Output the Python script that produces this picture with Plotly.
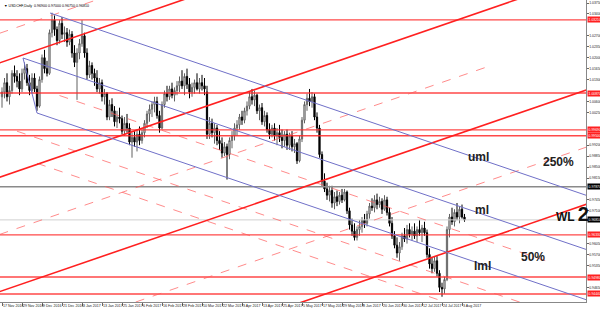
import plotly.graph_objects as go

# ---------------- data ----------------
bars = list(range(186))
opens = [1.0075,1.0090,1.0120,1.0075,1.0095,1.0150,1.0140,1.0125,1.0100,1.0150,
         1.0165,1.0120,1.0095,1.0135,1.0100,1.0045,1.0130,1.0200,1.0165,1.0150,
         1.0280,1.0320,1.0290,1.0255,1.0310,1.0275,1.0280,1.0250,1.0275,1.0215,
         1.0185,1.0215,1.0245,1.0270,1.0215,1.0145,1.0175,1.0150,1.0135,1.0100,
         1.0120,1.0075,1.0085,1.0010,1.0050,1.0030,0.9995,1.0010,1.0005,0.9965,
         0.9990,0.9975,0.9930,0.9945,0.9930,0.9955,0.9935,0.9960,0.9990,1.0020,
         1.0035,1.0050,1.0060,1.0015,0.9975,1.0050,1.0085,1.0075,1.0100,1.0080,
         1.0095,1.0110,1.0125,1.0110,1.0140,1.0115,1.0090,1.0105,1.0120,1.0100,
         1.0120,1.0110,1.0090,0.9955,0.9990,0.9960,0.9975,0.9935,0.9925,0.9895,
         0.9915,0.9890,0.9935,0.9950,0.9975,0.9985,1.0010,1.0000,1.0030,1.0045,
         1.0075,1.0065,1.0080,1.0030,1.0040,0.9995,1.0015,0.9970,0.9955,0.9975,
         0.9950,0.9960,0.9945,0.9935,0.9955,0.9920,0.9950,0.9915,0.9925,0.9870,
         0.9940,1.0000,1.0050,1.0070,1.0060,1.0075,1.0010,0.9975,0.9890,0.9805,
         0.9780,0.9760,0.9775,0.9735,0.9755,0.9740,0.9760,0.9745,0.9770,0.9710,
         0.9665,0.9645,0.9625,0.9650,0.9660,0.9680,0.9670,0.9700,0.9725,0.9720,
         0.9745,0.9730,0.9740,0.9715,0.9745,0.9705,0.9670,0.9630,0.9600,0.9575,
         0.9595,0.9630,0.9620,0.9650,0.9635,0.9645,0.9630,0.9650,0.9640,0.9655,
         0.9640,0.9570,0.9540,0.9525,0.9550,0.9510,0.9465,0.9460,0.9490,0.9650,
         0.9690,0.9675,0.9705,0.9690,0.9715,0.9690]
highs = [1.0105,1.0135,1.0150,1.0110,1.0160,1.0175,1.0160,1.0150,1.0165,1.0185,
         1.0180,1.0145,1.0150,1.0150,1.0110,1.0140,1.0210,1.0225,1.0190,1.0290,
         1.0344,1.0335,1.0300,1.0320,1.0330,1.0300,1.0295,1.0290,1.0285,1.0240,
         1.0230,1.0260,1.0320,1.0280,1.0230,1.0190,1.0185,1.0165,1.0160,1.0135,
         1.0130,1.0100,1.0090,1.0065,1.0070,1.0045,1.0030,1.0040,1.0015,1.0010,
         1.0020,0.9990,0.9960,0.9965,0.9970,0.9980,0.9970,1.0000,1.0030,1.0050,
         1.0060,1.0075,1.0075,1.0030,1.0060,1.0095,1.0110,1.0110,1.0120,1.0105,
         1.0125,1.0140,1.0160,1.0150,1.0165,1.0135,1.0120,1.0130,1.0150,1.0135,
         1.0145,1.0135,1.0110,1.0010,1.0005,0.9990,0.9985,0.9965,0.9945,0.9930,
         0.9925,0.9945,0.9965,0.9990,1.0000,1.0020,1.0030,1.0040,1.0060,1.0090,
         1.0100,1.0095,1.0085,1.0050,1.0055,1.0030,1.0025,0.9990,0.9985,0.9990,
         0.9975,0.9985,0.9970,0.9965,0.9970,0.9960,0.9965,0.9940,0.9930,0.9950,
         1.0010,1.0060,1.0085,1.0100,1.0090,1.0085,1.0025,0.9985,0.9900,0.9830,
         0.9800,0.9790,0.9790,0.9770,0.9775,0.9770,0.9780,0.9780,0.9775,0.9720,
         0.9685,0.9670,0.9660,0.9680,0.9690,0.9700,0.9710,0.9735,0.9750,0.9760,
         0.9765,0.9755,0.9750,0.9760,0.9755,0.9720,0.9690,0.9645,0.9625,0.9610,
         0.9640,0.9655,0.9665,0.9670,0.9660,0.9670,0.9660,0.9680,0.9665,0.9675,
         0.9650,0.9590,0.9560,0.9565,0.9565,0.9520,0.9480,0.9500,0.9660,0.9700,
         0.9720,0.9715,0.9735,0.9725,0.9730,0.9700]
lows = [1.0040,1.0070,1.0060,1.0050,1.0085,1.0120,1.0105,1.0080,1.0090,1.0130,
        1.0110,1.0080,1.0085,1.0090,1.0030,1.0040,1.0120,1.0150,1.0140,1.0145,
        1.0265,1.0270,1.0240,1.0245,1.0260,1.0250,1.0235,1.0240,1.0200,1.0170,
        1.0065,1.0195,1.0235,1.0200,1.0130,1.0135,1.0130,1.0110,1.0090,1.0085,
        1.0060,1.0050,1.0000,1.0000,1.0010,0.9980,0.9975,0.9990,0.9955,0.9950,
        0.9960,0.9920,0.9880,0.9915,0.9900,0.9920,0.9925,0.9945,0.9975,0.9995,
        1.0010,1.0025,1.0005,0.9960,0.9970,1.0040,1.0060,1.0065,1.0070,1.0060,
        1.0080,1.0090,1.0100,1.0080,1.0100,1.0070,1.0075,1.0085,1.0095,1.0085,
        1.0095,1.0080,0.9940,0.9940,0.9945,0.9925,0.9920,0.9905,0.9880,0.9885,
        0.9810,0.9875,0.9910,0.9935,0.9950,0.9970,0.9985,0.9990,1.0015,1.0035,
        1.0050,1.0045,1.0020,1.0000,0.9985,0.9980,0.9960,0.9940,0.9945,0.9935,
        0.9920,0.9930,0.9910,0.9915,0.9905,0.9905,0.9900,0.9895,0.9860,0.9865,
        0.9930,0.9990,1.0030,1.0045,1.0040,1.0000,0.9960,0.9880,0.9790,0.9770,
        0.9745,0.9740,0.9720,0.9715,0.9725,0.9730,0.9735,0.9740,0.9700,0.9650,
        0.9630,0.9615,0.9615,0.9630,0.9640,0.9655,0.9660,0.9685,0.9710,0.9705,
        0.9715,0.9720,0.9700,0.9710,0.9695,0.9660,0.9620,0.9590,0.9560,0.9550,
        0.9585,0.9610,0.9605,0.9625,0.9615,0.9620,0.9610,0.9630,0.9610,0.9630,
        0.9560,0.9525,0.9510,0.9515,0.9500,0.9450,0.9435,0.9445,0.9485,0.9625,
        0.9665,0.9660,0.9680,0.9670,0.9685,0.9675]
closes = [1.0090,1.0120,1.0075,1.0095,1.0150,1.0140,1.0125,1.0100,1.0150,1.0165,
          1.0120,1.0095,1.0135,1.0100,1.0045,1.0130,1.0200,1.0165,1.0150,1.0280,
          1.0320,1.0290,1.0255,1.0310,1.0275,1.0280,1.0250,1.0275,1.0215,1.0185,
          1.0215,1.0245,1.0270,1.0215,1.0145,1.0175,1.0150,1.0135,1.0100,1.0120,
          1.0075,1.0085,1.0010,1.0050,1.0030,0.9995,1.0010,1.0005,0.9965,0.9990,
          0.9975,0.9930,0.9945,0.9930,0.9955,0.9935,0.9960,0.9990,1.0020,1.0035,
          1.0050,1.0060,1.0015,0.9975,1.0050,1.0085,1.0075,1.0100,1.0080,1.0095,
          1.0110,1.0125,1.0110,1.0140,1.0115,1.0090,1.0105,1.0120,1.0100,1.0120,
          1.0110,1.0100,0.9955,0.9990,0.9960,0.9975,0.9935,0.9925,0.9895,0.9915,
          0.9890,0.9935,0.9950,0.9975,0.9985,1.0010,1.0000,1.0030,1.0045,1.0075,
          1.0065,1.0080,1.0030,1.0040,0.9995,1.0015,0.9970,0.9955,0.9975,0.9950,
          0.9960,0.9945,0.9935,0.9955,0.9920,0.9950,0.9915,0.9925,0.9870,0.9940,
          1.0000,1.0050,1.0070,1.0060,1.0075,1.0010,0.9975,0.9890,0.9805,0.9780,
          0.9760,0.9775,0.9735,0.9755,0.9740,0.9760,0.9745,0.9770,0.9710,0.9665,
          0.9645,0.9625,0.9650,0.9660,0.9680,0.9670,0.9700,0.9725,0.9720,0.9745,
          0.9730,0.9740,0.9715,0.9745,0.9705,0.9670,0.9630,0.9600,0.9575,0.9595,
          0.9630,0.9620,0.9650,0.9635,0.9645,0.9630,0.9650,0.9640,0.9655,0.9640,
          0.9570,0.9540,0.9525,0.9550,0.9510,0.9465,0.9460,0.9490,0.9650,0.9690,
          0.9675,0.9705,0.9690,0.9715,0.9690,0.9681]

date_tick_bars = [0,8,16,24,32,40,48,56,64,72,80,88,96,104,112,120,128,136,144,152,160,168,176,184]
date_tick_labels = ["17 Nov 2016","29 Nov 2016","9 Dec 2016","21 Dec 2016","3 Jan 2017","13 Jan 2017",
                    "25 Jan 2017","6 Feb 2017","16 Feb 2017","28 Feb 2017","10 Mar 2017","22 Mar 2017",
                    "3 Apr 2017","13 Apr 2017","25 Apr 2017","5 May 2017","17 May 2017","29 May 2017",
                    "8 Jun 2017","20 Jun 2017","30 Jun 2017","12 Jul 2017","24 Jul 2017","3 Aug 2017"]

# price-axis ticks (those hidden under level labels are left out)
price_ticks = [1.0375,1.0340,1.0270,1.0235,1.0200,1.0165,1.0130,1.0060,1.0025,
               0.9920,0.9885,0.9850,0.9815,0.9745,0.9710,
               0.9605,0.9570,0.9535,0.9465]

# horizontal levels
red_levels = [1.0321, 1.0087, 0.9969, 0.9950, 0.9633, 0.9498, 0.9444]
gray_level = 0.9787
bid_level = closes[-1]

# trend lines: (bar0, price0, bar1, price1)
red_trend = [(-1, 1.01833, 240, 1.08460),
             (-1, 0.98173, 240, 1.04800),
             (-1, 0.94513, 240, 1.01140),
             (-1, 0.90853, 240, 0.97480)]
pink_up = [(-1, 1.02780, 100, 1.05560),
           (-1, 0.92683, 240, 0.99310),
           (-1, 0.96343, 196, 1.01760)]
blue_fork = [(19.2, 1.0343, 240, 0.97424),   # uml
             (8.4, 1.0199, 240, 0.95691),    # ml
             (14, 1.0023, 240, 0.94083),     # lml
             (8.4, 1.0199, 14, 1.0023)]      # handle link
pink_down = [(23, 1.00789, 219.2, 0.95453),
             (6, 0.99648, 240, 0.93283),
             (14, 0.98620, 240, 0.92473)]

x_range = [-0.8, 233.6]
y_range = [0.94182, 1.03846]

# ---------------- figure ----------------
fig = go.Figure()

def add_line(seg, color, width, dash="solid"):
    fig.add_trace(go.Scatter(x=[seg[0], seg[2]], y=[seg[1], seg[3]], mode="lines",
                             line=dict(color=color, width=width, dash=dash),
                             hoverinfo="skip", showlegend=False))

for lv in red_levels:
    add_line((x_range[0]-5, lv, x_range[1]+5, lv), "rgba(255,40,40,0.85)", 1.4)
add_line((x_range[0]-5, gray_level, x_range[1]+5, gray_level), "#8a8a8a", 1.6)
add_line((x_range[0]-5, bid_level, x_range[1]+5, bid_level), "#d0d0d0", 1)

for s in pink_up:
    add_line(s, "rgba(255,90,90,0.7)", 1, "dash")
for s in pink_down:
    add_line(s, "rgba(255,90,90,0.7)", 1, "dash")
for s in red_trend:
    add_line(s, "#ff2020", 1.6)
for s in blue_fork:
    add_line(s, "#7070c8", 1)

fig.add_trace(go.Candlestick(
    x=bars, open=opens, high=highs, low=lows, close=closes,
    increasing=dict(line=dict(color="#606060", width=1), fillcolor="#f4f4f4"),
    decreasing=dict(line=dict(color="#000000", width=1), fillcolor="#000000"),
    whiskerwidth=0, hoverinfo="skip", showlegend=False))

AX_FONT = 3.4

# right-axis labels for levels
def level_label(price, bg):
    fig.add_annotation(xref="paper", x=1.0, y=price, yref="y", text="%.5f" % price,
                       showarrow=False, xanchor="left", yanchor="middle", xshift=0.5,
                       font=dict(family="Liberation Sans", size=AX_FONT, color="white"),
                       bgcolor=bg, borderpad=0.6)

for lv in red_levels:
    level_label(lv, "#ff2020")
level_label(gray_level, "#000000")
level_label(bid_level, "#000000")

# chart texts
txt_font = dict(family="Liberation Sans", size=12, color="#222222")
fig.add_annotation(x=190.4, y=0.98822, text="<b>uml</b>", showarrow=False, font=txt_font)
fig.add_annotation(x=192, y=0.97126, text="<b>ml</b>", showarrow=False, font=txt_font)
fig.add_annotation(x=192, y=0.95334, text="<b>lml</b>", showarrow=False, font=txt_font)
fig.add_annotation(x=222.4, y=0.98662, text="<b>250%</b>", showarrow=False, font=txt_font)
fig.add_annotation(x=212.4, y=0.95622, text="<b>50%</b>", showarrow=False, font=txt_font)
fig.add_annotation(x=228.0, y=0.96990, text="<b>WL <span style='font-size:20px'>2</span></b>",
                   showarrow=False, font=dict(family="Liberation Sans", size=12, color="#111111"))

# title
title = "\u25BC USDCHF,Daily  %.5f %.5f %.5f %.5f" % (opens[-1], highs[-1], lows[-1], closes[-1])
fig.add_annotation(xref="paper", yref="paper", x=0.004, y=0.993, text=title, showarrow=False,
                   xanchor="left", yanchor="top",
                   font=dict(family="Liberation Sans", size=3.6, color="#000000"))

fig.update_layout(
    width=600, height=313, margin=dict(l=0, r=14, t=0, b=11, autoexpand=False),
    paper_bgcolor="white", plot_bgcolor="white", showlegend=False,
    xaxis=dict(range=x_range, tickvals=date_tick_bars, ticktext=date_tick_labels,
               tickangle=0, automargin=False,
               ticks="outside", ticklen=3, tickcolor="#666", showgrid=False, zeroline=False,
               showline=True, linecolor="#888", linewidth=1, mirror=True,
               ticklabelposition="outside right",
               tickfont=dict(family="Liberation Sans", size=3.6, color="#222"),
               rangeslider=dict(visible=False), fixedrange=True),
    yaxis=dict(range=y_range, side="right", tickvals=price_ticks, automargin=False,
               ticktext=["%.5f" % p for p in price_ticks],
               ticks="outside", ticklen=1.5, tickcolor="#666", showgrid=False, zeroline=False,
               showline=True, linecolor="#888", linewidth=1, mirror=True,
               tickfont=dict(family="Liberation Sans", size=AX_FONT, color="#222"), fixedrange=True),
)

fig.write_html("out.html")
